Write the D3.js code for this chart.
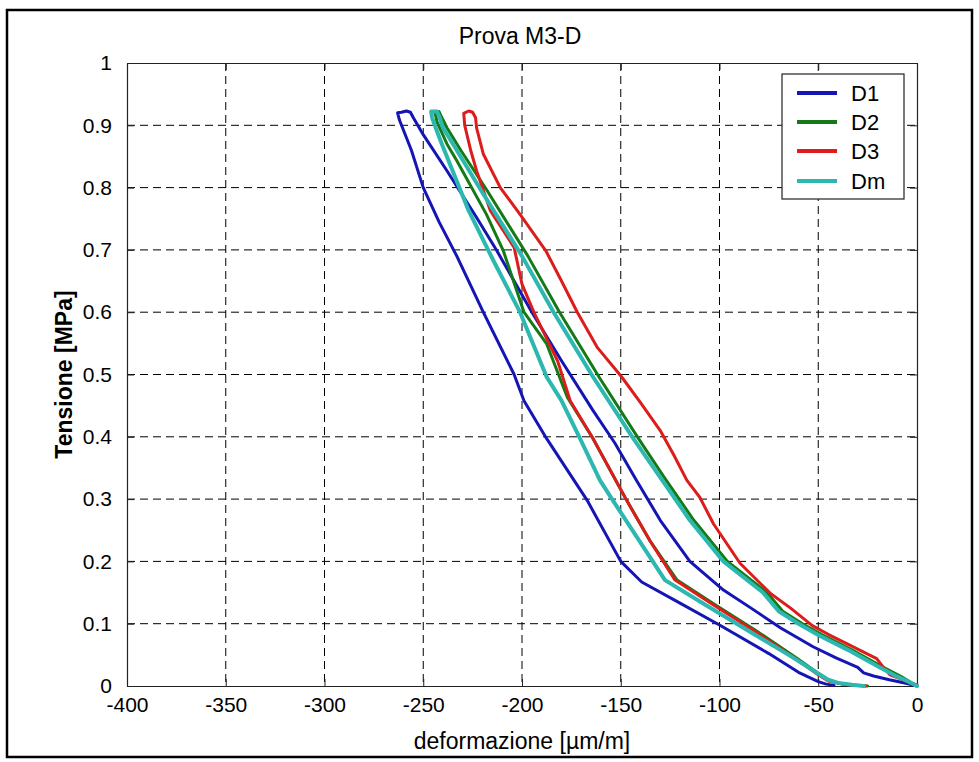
<!DOCTYPE html>
<html>
<head>
<meta charset="utf-8">
<script src="https://cdn.jsdelivr.net/npm/d3@7/dist/d3.min.js"></script>
<style>
  body { margin: 0; background: #fff; }
  text { font-family: "Liberation Sans", Arial, sans-serif; fill: #000; }
</style>
</head>
<body>
<div id="chart"></div>
<script>
// strain [µm/m], stress [MPa] – each loop: loading branch, peak, unloading branch
const curveD1 = [
    [0, 0], [-5, 0.004], [-14, 0.01], [-22, 0.016], [-27, 0.021], [-30, 0.03], [-41, 0.045],
    [-52.6, 0.063], [-69, 0.093], [-84, 0.125], [-98, 0.154], [-115, 0.2], [-130, 0.266],
    [-142, 0.33], [-153, 0.39], [-164, 0.442], [-180, 0.522], [-195, 0.6], [-212.8, 0.699],
    [-223, 0.752], [-238, 0.827], [-250, 0.885], [-255, 0.912], [-256.5, 0.921], [-258.5, 0.923],
    [-261, 0.921], [-263, 0.92], [-262, 0.908], [-256, 0.86], [-250, 0.8], [-242, 0.745],
    [-233, 0.69], [-219.6, 0.6], [-204, 0.5], [-199, 0.458], [-187.5, 0.397], [-167, 0.298],
    [-150, 0.2], [-139.4, 0.167], [-120, 0.133], [-100, 0.098], [-75, 0.052], [-60, 0.022],
    [-50, 0.007], [-46, 0.003], [-42, 0.001]
];
const curveD2 = [
    [0, 0], [-8, 0.015], [-17, 0.03], [-33, 0.058], [-48, 0.082], [-58, 0.1], [-68, 0.12],
    [-76, 0.15], [-96, 0.2], [-113, 0.266], [-128, 0.335], [-141, 0.397], [-161, 0.496],
    [-181, 0.6], [-197, 0.69], [-218, 0.797], [-231, 0.86], [-238, 0.896], [-241, 0.915],
    [-242, 0.922], [-244, 0.92], [-243, 0.905], [-238, 0.87], [-233, 0.843], [-218, 0.757],
    [-209.5, 0.699], [-199, 0.6], [-187.5, 0.549], [-177, 0.463], [-164, 0.397], [-147, 0.298],
    [-135, 0.232], [-121.5, 0.17], [-102, 0.13], [-82, 0.09], [-61, 0.045], [-49, 0.018],
    [-44, 0.008], [-37, 0.003], [-30, 0.001], [-25, 0]
];
const curveD3 = [
    [0, 0.002], [-3, 0.004], [-7, 0.01], [-13.7, 0.018], [-16, 0.026], [-20.4, 0.044],
    [-28, 0.056], [-35.6, 0.068], [-45, 0.083], [-53, 0.097], [-64, 0.125], [-74, 0.148],
    [-89.6, 0.197], [-103, 0.26], [-110, 0.303], [-116.5, 0.33], [-123, 0.37], [-130, 0.41],
    [-140, 0.455], [-149.5, 0.496], [-162, 0.544], [-172, 0.6], [-180, 0.65], [-188, 0.699],
    [-195, 0.73], [-201, 0.757], [-211, 0.8], [-219.6, 0.854], [-223, 0.896], [-223.5, 0.912],
    [-225, 0.921], [-227, 0.923], [-229.5, 0.919], [-229, 0.9], [-226, 0.86], [-223, 0.827],
    [-216, 0.763], [-204, 0.704], [-200, 0.645], [-194, 0.6], [-182, 0.522], [-175.6, 0.458],
    [-164, 0.397], [-147, 0.298], [-135, 0.232], [-122.5, 0.17], [-103, 0.13], [-83, 0.09],
    [-62, 0.045], [-50, 0.018], [-45, 0.008], [-38, 0.003], [-30, 0.001], [-26, 0]
];
const curveDm = [
    [0, 0], [-5, 0.008], [-10, 0.015], [-19, 0.03], [-35, 0.058], [-50, 0.082], [-60, 0.1],
    [-70, 0.12], [-78, 0.15], [-98, 0.2], [-115, 0.266], [-130, 0.335], [-143.6, 0.397],
    [-164, 0.496], [-184, 0.6], [-200, 0.69], [-221, 0.797], [-233, 0.86], [-240, 0.896],
    [-242, 0.915], [-243, 0.922], [-246, 0.922], [-245.5, 0.912], [-243, 0.89], [-240.6, 0.87],
    [-227, 0.763], [-214.5, 0.683], [-201, 0.6], [-187.5, 0.496], [-180, 0.458], [-170.6, 0.397],
    [-160.5, 0.33], [-154, 0.298], [-140, 0.23], [-127.6, 0.17], [-107, 0.13], [-86, 0.09],
    [-65, 0.05], [-50, 0.02], [-45, 0.01], [-40, 0.005], [-33, 0.002], [-27, 0]
];

const seriesNames = ["D1", "D2", "D3", "Dm"];
const seriesData = [curveD1, curveD2, curveD3, curveDm];
const seriesColors = ["#1515b5", "#157a15", "#dd1c1c", "#2cb8b0"];
const seriesWidths = [3, 3, 3, 4];

const xTicks = [-400, -350, -300, -250, -200, -150, -100, -50, 0];
const yTicks = [0, 0.1, 0.2, 0.3, 0.4, 0.5, 0.6, 0.7, 0.8, 0.9, 1];

const W = 979, H = 762;
const plot = { left: 127, right: 917, top: 63, bottom: 686 };

const svg = d3.select("#chart").append("svg")
    .attr("width", W)
    .attr("height", H);

// outer frame
svg.append("rect")
    .attr("x", 7).attr("y", 10)
    .attr("width", 965).attr("height", 747)
    .attr("fill", "none")
    .attr("stroke", "#000")
    .attr("stroke-width", 2.5);

const x = d3.scaleLinear().domain([-400, 0]).range([plot.left, plot.right]);
const y = d3.scaleLinear().domain([0, 1]).range([plot.bottom, plot.top]);

// grid
const grid = svg.append("g")
    .attr("stroke", "#000")
    .attr("stroke-width", 1)
    .attr("stroke-dasharray", "8,5");

grid.selectAll(".vg")
    .data(xTicks.slice(1, -1))
    .enter()
    .append("line")
    .attr("x1", d => x(d)).attr("x2", d => x(d))
    .attr("y1", plot.top).attr("y2", plot.bottom);

grid.selectAll(".hg")
    .data(yTicks.slice(1, -1))
    .enter()
    .append("line")
    .attr("y1", d => y(d)).attr("y2", d => y(d))
    .attr("x1", plot.left).attr("x2", plot.right);

// axes, ticks inward (MATLAB style)
const fmtX = d => String(d);
const fmtY = d => (d === 0 || d === 1) ? String(d) : d.toFixed(1);

const axB = svg.append("g")
    .attr("transform", `translate(0, ${plot.bottom})`)
    .call(d3.axisBottom(x).tickValues(xTicks).tickSizeInner(-7).tickSizeOuter(0).tickPadding(11).tickFormat(fmtX));
const axT = svg.append("g")
    .attr("transform", `translate(0, ${plot.top})`)
    .call(d3.axisTop(x).tickValues(xTicks).tickSizeInner(-7).tickSizeOuter(0).tickFormat(""));
const axL = svg.append("g")
    .attr("transform", `translate(${plot.left}, 0)`)
    .call(d3.axisLeft(y).tickValues(yTicks).tickSizeInner(-7).tickSizeOuter(0).tickPadding(15).tickFormat(fmtY));
const axR = svg.append("g")
    .attr("transform", `translate(${plot.right}, 0)`)
    .call(d3.axisRight(y).tickValues(yTicks).tickSizeInner(-7).tickSizeOuter(0).tickFormat(""));

[axB, axT, axL, axR].forEach(a => {
    a.select(".domain").attr("stroke", "#222").attr("stroke-width", 1.2);
    a.selectAll(".tick line").attr("stroke", "#222");
    a.selectAll("text")
        .style("font-family", "'Liberation Sans', Arial, sans-serif")
        .style("font-size", "21px")
        .attr("fill", "#111");
});

// curves
const line = d3.line()
    .x(d => x(d[0]))
    .y(d => y(d[1]));

svg.append("g")
    .selectAll("path")
    .data(seriesData)
    .enter()
    .append("path")
    .attr("d", line)
    .attr("fill", "none")
    .attr("stroke", (d, i) => seriesColors[i])
    .attr("stroke-width", (d, i) => seriesWidths[i])
    .attr("stroke-linejoin", "round")
    .attr("stroke-linecap", "round");

// legend
const lg = svg.append("g");
lg.append("rect")
    .attr("x", 782).attr("y", 74)
    .attr("width", 122).attr("height", 125)
    .attr("fill", "#fff")
    .attr("stroke", "#222")
    .attr("stroke-width", 1.2);

const rowY = [93, 122, 151, 181];
seriesNames.forEach((name, i) => {
    lg.append("line")
        .attr("x1", 797).attr("x2", 837)
        .attr("y1", rowY[i]).attr("y2", rowY[i])
        .attr("stroke", seriesColors[i])
        .attr("stroke-width", 4);
    lg.append("text")
        .attr("x", 851)
        .attr("y", rowY[i])
        .attr("dy", "0.36em")
        .style("font-size", "22px")
        .text(name);
});

// title and axis labels
svg.append("text")
    .attr("x", 520)
    .attr("y", 44)
    .attr("text-anchor", "middle")
    .style("font-size", "23px")
    .text("Prova M3-D");

svg.append("text")
    .attr("x", (plot.left + plot.right) / 2)
    .attr("y", 741)
    .attr("dy", "0.36em")
    .attr("text-anchor", "middle")
    .style("font-size", "23px")
    .text("deformazione [µm/m]");

svg.append("text")
    .attr("transform", `translate(64, ${(plot.top + plot.bottom) / 2}) rotate(-90)`)
    .attr("dy", "0.36em")
    .attr("text-anchor", "middle")
    .style("font-size", "23px")
    .style("font-weight", "bold")
    .text("Tensione [MPa]");
</script>
</body>
</html>
